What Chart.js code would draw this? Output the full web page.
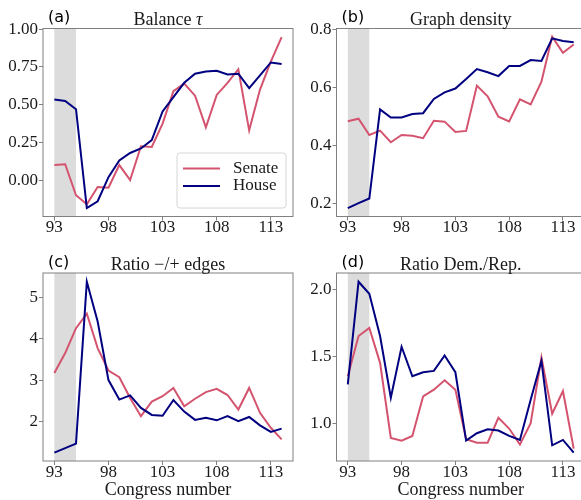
<!DOCTYPE html>
<html>
<head>
<meta charset="utf-8">
<script src="https://cdn.jsdelivr.net/npm/chart.js@4.4.0/dist/chart.umd.min.js"></script>
<style>
  html, body { margin: 0; padding: 0; background: #fff; overflow: hidden; width: 581px; height: 500px; }
  canvas { position: absolute; }
</style>
</head>
<body>
<canvas id="balance" width="300" height="245" style="left:0;top:0"></canvas>
<canvas id="density" width="299" height="245" style="left:293px;top:0"></canvas>
<canvas id="ratioEdges" width="300" height="255" style="left:0;top:245px"></canvas>
<canvas id="demRep" width="299" height="255" style="left:293px;top:245px"></canvas>
<script>
// congresses on the x axis
const congress = [93, 94, 95, 96, 97, 98, 99, 100, 101, 102, 103, 104, 105, 106, 107, 108, 109, 110, 111, 112, 113, 114];
const xTicks = [93, 98, 103, 108, 113];
const shadeFrom = 93;
const shadeTo = 95;

// (a) balance tau
const senateBalance = [0.10, 0.105, -0.10, -0.16, -0.045, -0.05, 0.10, 0.00, 0.225, 0.22, 0.375, 0.59, 0.64, 0.56, 0.35, 0.565, 0.645, 0.735, 0.33, 0.60, 0.785, 0.948];
const houseBalance = [0.535, 0.525, 0.47, -0.185, -0.14, 0.02, 0.13, 0.18, 0.21, 0.265, 0.455, 0.55, 0.645, 0.705, 0.72, 0.725, 0.70, 0.705, 0.61, 0.695, 0.78, 0.77];
const balanceTicks = [0, 0.25, 0.5, 0.75, 1.0];
const balanceLabels = ['0.00', '0.25', '0.50', '0.75', '1.00'];

// (b) graph density
const senateDensity = [0.482, 0.491, 0.435, 0.45, 0.41, 0.435, 0.432, 0.424, 0.484, 0.481, 0.445, 0.449, 0.605, 0.568, 0.498, 0.482, 0.558, 0.54, 0.619, 0.774, 0.718, 0.747];
const houseDensity = [0.183, 0.20, 0.216, 0.523, 0.495, 0.495, 0.507, 0.51, 0.559, 0.582, 0.595, 0.628, 0.662, 0.651, 0.638, 0.673, 0.673, 0.693, 0.69, 0.768, 0.759, 0.755];
const densityTicks = [0.2, 0.4, 0.6, 0.8];
const densityLabels = ['0.2', '0.4', '0.6', '0.8'];

// (c) ratio of negative / positive edges
const senateRatioEdges = [3.18, 3.66, 4.26, 4.61, 3.78, 3.24, 3.08, 2.58, 2.14, 2.49, 2.62, 2.82, 2.38, 2.56, 2.72, 2.80, 2.65, 2.30, 2.82, 2.22, 1.86, 1.58];
const houseRatioEdges = [1.26, 1.37, 1.48, 5.38, 4.42, 3.01, 2.54, 2.64, 2.34, 2.17, 2.15, 2.53, 2.25, 2.05, 2.10, 2.04, 2.14, 2.02, 2.12, 1.92, 1.76, 1.84];
const edgesTicks = [2, 3, 4, 5];
const edgesLabels = ['2', '3', '4', '5'];

// (d) ratio democrats / republicans
const senateDemRep = [1.35, 1.65, 1.71, 1.45, 0.89, 0.87, 0.905, 1.20, 1.25, 1.32, 1.25, 0.88, 0.855, 0.855, 1.04, 0.96, 0.84, 1.00, 1.49, 1.07, 1.24, 0.81];
const houseDemRep = [1.29, 2.055, 1.965, 1.65, 1.19, 1.57, 1.35, 1.38, 1.39, 1.505, 1.38, 0.87, 0.925, 0.955, 0.945, 0.905, 0.875, 1.175, 1.465, 0.835, 0.875, 0.78];
const demRepTicks = [1.0, 1.5, 2.0];
const demRepLabels = ['1.0', '1.5', '2.0'];

const senateColor = '#d4546f';
const houseColor = '#000080';
const spineColor = '#808080';
const textColor = '#1a1a1a';
const serif = 'Liberation Serif';

const panelDecor = {
    id: 'panelDecor',
    beforeDatasetsDraw(chart, args, opts) {
        const { ctx, chartArea: a, scales: { x } } = chart;
        const x1 = x.getPixelForValue(shadeFrom);
        const x2 = x.getPixelForValue(shadeTo);
        ctx.save();
        ctx.fillStyle = '#dcdcdc';
        ctx.fillRect(x1, a.top, x2 - x1, a.bottom - a.top);
        ctx.restore();
    },
    afterDraw(chart, args, opts) {
        const { ctx, chartArea: a } = chart;
        ctx.save();
        // box round the plot
        ctx.strokeStyle = spineColor;
        ctx.lineWidth = 1;
        ctx.strokeRect(a.left, a.top, a.right - a.left, a.bottom - a.top);

        // title, in pieces so that tau can be italic
        ctx.fillStyle = textColor;
        ctx.textBaseline = 'alphabetic';
        ctx.textAlign = 'left';
        let total = 0;
        opts.title.forEach(p => {
            ctx.font = p[1] + '18px "' + serif + '"';
            total += ctx.measureText(p[0]).width;
        });
        let tx = (a.left + a.right) / 2 - total / 2;
        opts.title.forEach(p => {
            ctx.font = p[1] + '18px "' + serif + '"';
            ctx.fillText(p[0], tx, a.top - 3.5);
            tx += ctx.measureText(p[0]).width;
        });

        // panel letter
        ctx.fillStyle = '#000';
        ctx.font = '16px "DejaVu Sans"';
        ctx.fillText(opts.letter, a.left + 5, a.top - 6.5);

        // legend inside the plot
        if (opts.legend) {
            const w = 109, h = 55;
            const lx = a.right - 7 - w;
            const ly = a.bottom - 8.5 - h;
            ctx.fillStyle = 'rgba(255,255,255,0.85)';
            ctx.strokeStyle = '#d6d6d6';
            ctx.beginPath();
            ctx.roundRect(lx, ly, w, h, 3);
            ctx.fill();
            ctx.stroke();
            chart.data.datasets.forEach((ds, i) => {
                const yy = ly + 15.5 + i * 17.5;
                ctx.strokeStyle = ds.borderColor;
                ctx.lineWidth = 2;
                ctx.beginPath();
                ctx.moveTo(lx + 6, yy);
                ctx.lineTo(lx + 43, yy);
                ctx.stroke();
                ctx.fillStyle = textColor;
                ctx.font = '17px "' + serif + '"';
                ctx.textBaseline = 'middle';
                ctx.fillText(ds.label, lx + 56, yy);
            });
        }
        ctx.restore();
    }
};

function makePanel(id, p) {
    const points = arr => congress.map((c, i) => ({ x: c, y: arr[i] }));
    return new Chart(document.getElementById(id), {
        type: 'line',
        data: {
            datasets: [
                { label: 'Senate', data: points(p.senate), borderColor: senateColor, borderWidth: 2, pointRadius: 0, order: 2 },
                { label: 'House', data: points(p.house), borderColor: houseColor, borderWidth: 2, pointRadius: 0, order: 1 }
            ]
        },
        options: {
            responsive: false,
            animation: false,
            devicePixelRatio: 1,
            layout: { padding: { top: p.top, right: 7, left: 0, bottom: 0 } },
            plugins: {
                legend: { display: false },
                tooltip: { enabled: false },
                panelDecor: { title: p.title, letter: p.letter, legend: p.legend }
            },
            scales: {
                x: {
                    type: 'linear',
                    min: 91.95,
                    max: 115.05,
                    afterBuildTicks: axis => { axis.ticks = xTicks.map(v => ({ value: v })); },
                    afterFit: axis => { axis.height = p.xHeight; },
                    grid: { drawOnChartArea: false, drawTicks: true, tickLength: 4, color: spineColor },
                    border: { display: false },
                    ticks: {
                        color: textColor, padding: -1, maxRotation: 0, autoSkip: false,
                        font: { family: serif, size: 17, lineHeight: 1 },
                        callback: v => String(v)
                    },
                    title: {
                        display: p.xTitle,
                        text: 'Congress number',
                        color: textColor,
                        padding: { top: 0, bottom: 1 },
                        font: { family: serif, size: 18, lineHeight: 1 }
                    }
                },
                y: {
                    min: p.yMin,
                    max: p.yMax,
                    afterBuildTicks: axis => { axis.ticks = p.yTicks.map(v => ({ value: v })); },
                    afterFit: axis => { axis.width = p.yWidth; },
                    grid: { drawOnChartArea: false, drawTicks: true, tickLength: 4, color: spineColor },
                    border: { display: false },
                    ticks: {
                        color: textColor, padding: 1,
                        font: { family: serif, size: 17, lineHeight: 1 },
                        callback: v => p.yLabels[p.yTicks.indexOf(v)]
                    }
                }
            }
        },
        plugins: [panelDecor]
    });
}

makePanel('balance', {
    senate: senateBalance, house: houseBalance,
    title: [['Balance ', ''], ['τ', 'italic ']], letter: '(a)', legend: true,
    yMin: -0.241, yMax: 1.005, yTicks: balanceTicks, yLabels: balanceLabels,
    top: 28.5, xHeight: 28.5, yWidth: 43, xTitle: false
});
makePanel('density', {
    senate: senateDensity, house: houseDensity,
    title: [['Graph density', '']], letter: '(b)', legend: false,
    yMin: 0.154, yMax: 0.802, yTicks: densityTicks, yLabels: densityLabels,
    top: 28.5, xHeight: 28.5, yWidth: 43.5, xTitle: false
});
makePanel('ratioEdges', {
    senate: senateRatioEdges, house: houseRatioEdges,
    title: [['Ratio −/+ edges', '']], letter: '(c)', legend: false,
    yMin: 1.06, yMax: 5.59, yTicks: edgesTicks, yLabels: edgesLabels,
    top: 28, xHeight: 39, yWidth: 43, xTitle: true
});
makePanel('demRep', {
    senate: senateDemRep, house: houseDemRep,
    title: [['Ratio Dem./Rep.', '']], letter: '(d)', legend: false,
    yMin: 0.718, yMax: 2.12, yTicks: demRepTicks, yLabels: demRepLabels,
    top: 28, xHeight: 39, yWidth: 43.5, xTitle: true
});
</script>
</body>
</html>
